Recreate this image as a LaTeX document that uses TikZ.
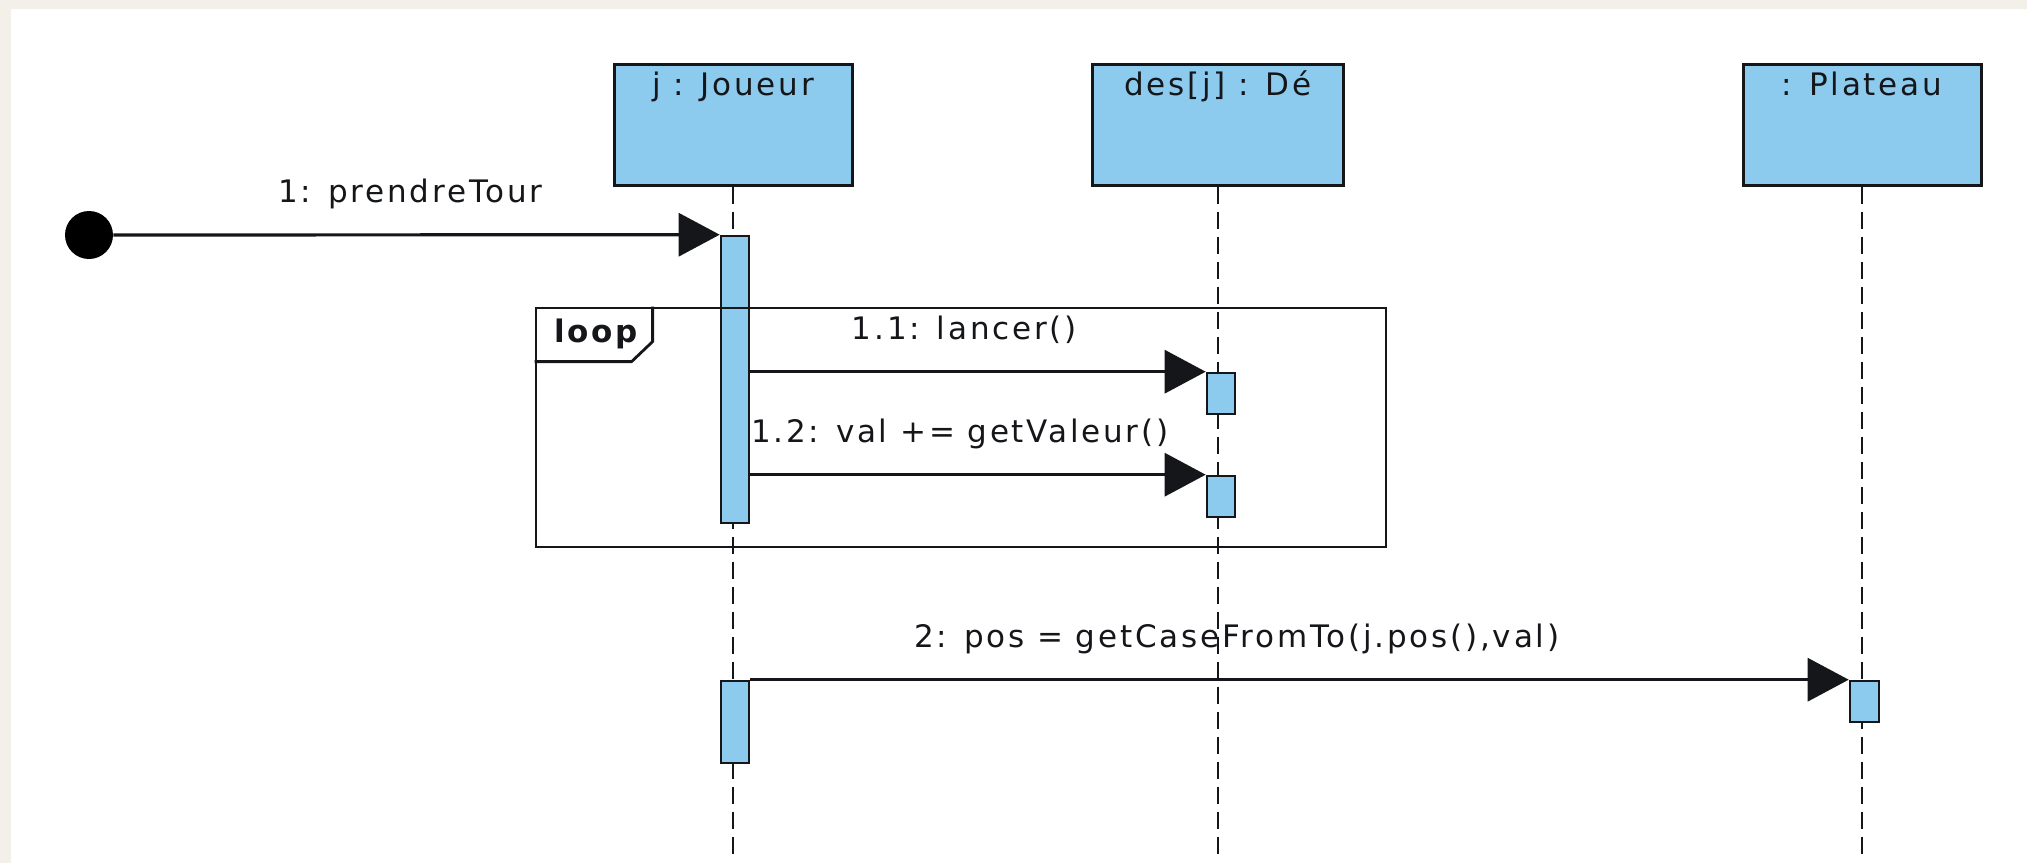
\documentclass[tikz,border=0pt]{standalone}
\usepackage{fontspec}
\setmainfont{DejaVu Sans}[LetterSpace=9]
\usetikzlibrary{arrows.meta}
\definecolor{objblue}{RGB}{140,203,238}
\definecolor{paper}{RGB}{243,240,234}
\definecolor{ink}{RGB}{20,22,26}
\tikzset{
	obj/.style={draw=ink, line width=1.5pt, fill=objblue, minimum height=60.5pt, inner sep=0pt},
	act/.style={draw=ink, line width=1.3pt, fill=objblue, minimum width=14pt, inner sep=0pt},
	life/.style={draw=ink, line width=1.1pt, dash pattern=on 8.5pt off 4pt},
	msg/.style={draw=ink, line width=1.6pt, -{Triangle[length=20.5pt,width=21.5pt]}},
	lbl/.style={anchor=base, inner sep=0pt, yshift=16pt, text=ink},
	title/.style={anchor=base, inner sep=0pt, text=ink}
}
\begin{document}
\begin{tikzpicture}[x=0.5pt, y=-0.5pt, font=\fontsize{15.5pt}{18pt}\selectfont]
			\useasboundingbox (0,0) rectangle (2027,863);
			\fill[paper] (0,0) rectangle (2027,863);
			\fill[white] (11,9) rectangle (2027,863);
			\coordinate (bas) at (0,858);
			% objets et lignes de vie
			\node[obj, minimum width=119pt] (joueur) at (733,124.5) {};
			\node[obj, minimum width=125.5pt] (de) at (1218,124.5) {};
			\node[obj, minimum width=119pt] (plateau) at (1862,124.5) {};
			\node[title] (tJoueur) at ([yshift=-16.5pt]joueur.north) {j : Joueur};
			\node[title] (tDe) at ([yshift=-16.5pt]de.north) {des[j] : Dé};
			\node[title] (tPlateau) at ([yshift=-16.5pt]plateau.north) {: Plateau};
			\draw[life] (joueur.south) -- (joueur.south |- bas);
			\draw[life] (de.south) -- (de.south |- bas);
			\draw[life] (plateau.south) -- (plateau.south |- bas);
			% activations
			\node[act, minimum height=143.5pt] (jA) at (735,379.5) {};
			\node[act, minimum height=41pt] (jB) at (735,722) {};
			\node[act, minimum height=20.5pt] (dA1) at (1221,393.5) {};
			\node[act, minimum height=20.5pt] (dA2) at (1221,496.5) {};
			\node[act, minimum height=20.5pt, minimum width=14.5pt] (pA) at (1864.5,701.5) {};
			% cadre loop
			\node[draw=ink, line width=1.4pt, minimum width=425pt, minimum height=119.5pt, inner sep=0pt] (boucle) at (961,427.5) {};
			\draw[ink, line width=1.4pt] (boucle.north west) ++(118,0) -- ++(0,35) -- ++(-21,20) -- ++(-97,0);
			\node[title] (tBoucle) at (596,342) {\bfseries loop};
			% messages
			\node[circle, fill=black, minimum size=24pt, inner sep=0pt] (debut) at (89,235) {};
			\draw[msg] (debut) -- (jA.north west) node[lbl, pos=0.49] {1: prendreTour};
			\draw[msg] (dA1.north west -| jA.east) -- (dA1.north west) node[lbl, pos=0.47] {1.1: lancer()};
			\draw[msg] (dA2.north west -| jA.east) -- (dA2.north west) node[lbl, pos=0.46] {1.2: val += getValeur()};
			\draw[msg] (jB.north east) -- (pA.north west) node[lbl, pos=0.443] {2: pos = getCaseFromTo(j.pos(),val)};
		\end{tikzpicture}
\end{document}
